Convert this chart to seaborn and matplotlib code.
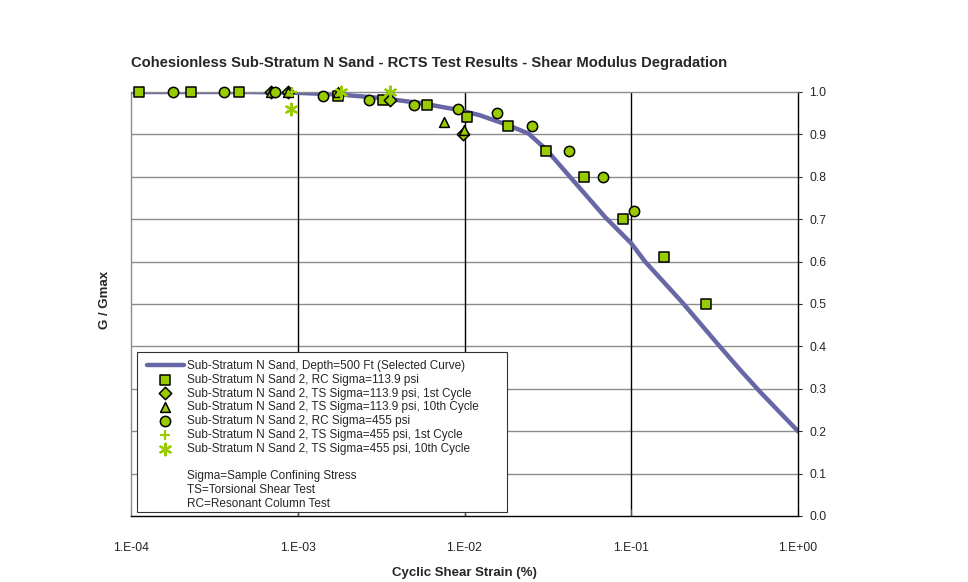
import matplotlib
matplotlib.use("Agg")
import matplotlib.pyplot as plt
import seaborn as sns
import pandas as pd
from matplotlib.lines import Line2D
from matplotlib.patches import Rectangle
from matplotlib.ticker import FixedLocator, FixedFormatter, NullLocator

# ---- data ----
curve_strain = [1e-4, 5.17e-4, 1e-3, 1.79e-3, 3.11e-3, 5.41e-3, 9.14e-3, 1.24e-2,
                1.82e-2, 2.42e-2, 3.08e-2, 4.29e-2, 6.97e-2, 0.1, 0.121, 0.201,
                0.258, 0.331, 0.449, 0.592, 0.78, 1.0]
curve_ratio = [1.0, 1.0, 0.998, 0.994, 0.986, 0.974, 0.958, 0.945,
               0.922, 0.902, 0.865, 0.80, 0.705, 0.643, 0.60, 0.505,
               0.455, 0.405, 0.345, 0.293, 0.244, 0.20]

rc114_strain = [1.12e-4, 2.29e-4, 4.44e-4, 1.74e-3, 3.25e-3, 5.96e-3, 1.03e-2,
                1.82e-2, 3.08e-2, 5.21e-2, 8.93e-2, 0.157, 0.281]
rc114_ratio = [1.0, 1.0, 1.0, 0.99, 0.98, 0.97, 0.94, 0.92, 0.86, 0.80, 0.70, 0.61, 0.50]

ts114_1_strain = [6.9e-4, 8.7e-4, 3.57e-3, 9.75e-3]
ts114_1_ratio = [1.0, 1.0, 0.98, 0.90]

ts114_10_strain = [6.9e-4, 8.7e-4, 1.75e-3, 7.54e-3, 9.9e-3]
ts114_10_ratio = [1.0, 1.0, 1.0, 0.93, 0.91]

rc455_strain = [1.79e-4, 3.61e-4, 7.3e-4, 1.41e-3, 2.67e-3, 4.98e-3, 9.14e-3,
                1.57e-2, 2.54e-2, 4.22e-2, 6.77e-2, 0.104]
rc455_ratio = [1.0, 1.0, 1.0, 0.99, 0.98, 0.97, 0.96, 0.95, 0.92, 0.86, 0.80, 0.72]

ts455_1_strain = [9.3e-4]
ts455_1_ratio = [1.0]

ts455_10_strain = [9.1e-4, 1.81e-3, 3.57e-3]
ts455_10_ratio = [0.96, 1.0, 1.0]

x_ticks = [1e-4, 1e-3, 1e-2, 1e-1, 1.0]
x_tick_labels = ["1.E-04", "1.E-03", "1.E-02", "1.E-01", "1.E+00"]
y_ticks = [0.0, 0.1, 0.2, 0.3, 0.4, 0.5, 0.6, 0.7, 0.8, 0.9, 1.0]

labels = [
    "Sub-Stratum N Sand, Depth=500 Ft (Selected Curve)",
    "Sub-Stratum N Sand 2, RC Sigma=113.9 psi",
    "Sub-Stratum N Sand 2, TS Sigma=113.9 psi, 1st Cycle",
    "Sub-Stratum N Sand 2, TS Sigma=113.9 psi, 10th Cycle",
    "Sub-Stratum N Sand 2, RC Sigma=455 psi",
    "Sub-Stratum N Sand 2, TS Sigma=455 psi, 1st Cycle",
    "Sub-Stratum N Sand 2, TS Sigma=455 psi, 10th Cycle",
]
notes = ["Sigma=Sample Confining Stress", "TS=Torsional Shear Test", "RC=Resonant Column Test"]

# ---- style ----
sns.set_style("white")
plt.rcParams['font.family'] = ['Liberation Sans', 'DejaVu Sans']

GREEN = "#99CC00"
LINE = "#6767A6"

fig = plt.figure(figsize=(9.68, 5.82), dpi=100)
ax = fig.add_axes([131 / 968, 1 - 516 / 582, (798 - 131) / 968, (516 - 92) / 582])

# grid
for yv in y_ticks[1:-1]:
    ax.axhline(yv, color="#8c8c8c", lw=1.0, zorder=0)
for xv in x_ticks[1:-1]:
    ax.axvline(xv, color="black", lw=1.0, zorder=0)

sns.lineplot(x=curve_strain, y=curve_ratio, ax=ax, color=LINE, lw=3.2,
             label=labels[0], zorder=2, sort=False, solid_joinstyle="round",
             solid_capstyle="round")

common = dict(ax=ax, clip_on=False)
sns.scatterplot(x=rc114_strain, y=rc114_ratio, marker="s", s=55,
                color=GREEN, edgecolor="black", linewidth=1.1, label=labels[1], zorder=4, **common)
sns.scatterplot(x=ts114_1_strain, y=ts114_1_ratio, marker="D", s=40,
                color=GREEN, edgecolor="black", linewidth=1.1, label=labels[2], zorder=4, **common)
sns.scatterplot(x=ts114_10_strain, y=ts114_10_ratio, marker="^", s=50,
                color=GREEN, edgecolor="black", linewidth=1.1, label=labels[3], zorder=4, **common)
sns.scatterplot(x=rc455_strain, y=rc455_ratio, marker="o", s=55,
                color=GREEN, edgecolor="black", linewidth=1.1, label=labels[4], zorder=4, **common)
sns.scatterplot(x=ts455_1_strain, y=ts455_1_ratio, marker="+", s=60,
                color=GREEN, linewidth=1.6, label=labels[5], zorder=5, **common)
sns.scatterplot(x=ts455_10_strain, y=ts455_10_ratio, marker=(6, 2, 0), s=70,
                color=GREEN, edgecolor=GREEN, linewidth=1.6, label=labels[6], zorder=5, **common)

ax.set_xscale("log")
ax.set_xlim(1e-4, 1.0)
ax.set_ylim(0, 1.0)

ax.xaxis.set_major_locator(FixedLocator(x_ticks))
ax.xaxis.set_major_formatter(FixedFormatter(x_tick_labels))
ax.xaxis.set_minor_locator(NullLocator())
ax.tick_params(axis="x", direction="in", length=5, width=0.8, color="#555555",
               labelsize=8.7, pad=19, bottom=True)

ax.yaxis.tick_right()
ax.yaxis.set_major_locator(FixedLocator(y_ticks))
ax.set_yticklabels([f"{v:.1f}" for v in y_ticks])
ax.tick_params(axis="y", direction="out", length=3, width=0.8, labelsize=8.7, pad=5,
               right=True, left=False)

ax.spines["left"].set_color("#8c8c8c")
ax.spines["top"].set_color("#8c8c8c")
ax.spines["right"].set_color("black")
ax.spines["bottom"].set_color("black")
for s in ax.spines.values():
    s.set_linewidth(1.0)
ax.set_xlabel("")
ax.set_ylabel("")

# legend box (drawn as a frame) + legend entries
box = Rectangle((6 / 667, 4 / 424), 370 / 667, 160 / 424, transform=ax.transAxes,
                facecolor="white", edgecolor="#333333", linewidth=0.8, zorder=9)
ax.add_patch(box)

handles, lbls = ax.get_legend_handles_labels()
blank = Line2D([], [], linestyle="none", marker=None)
handles = handles + [blank] * 4
lbls = lbls + [""] + notes
leg = ax.legend(handles, lbls, loc="upper left", bbox_to_anchor=(16 / 667, 156 / 424),
                borderaxespad=0, frameon=False, fontsize=8.5,
                labelspacing=0.15, handlelength=3.1, handletextpad=0.25,
                borderpad=0.0)
leg.set_zorder(10)

fig.text(131 / 968, 1 - 63 / 582,
         "Cohesionless Sub-Stratum N Sand - RCTS Test Results - Shear Modulus Degradation",
         fontsize=10.6, fontweight="bold", ha="left", va="center")
fig.text(105 / 968, 1 - 300 / 582, "G / Gmax", fontsize=9.5, fontweight="bold",
         rotation=90, ha="center", va="center")
fig.text(464 / 968, 1 - 573 / 582, "Cyclic Shear Strain (%)", fontsize=9.5,
         fontweight="bold", ha="center", va="center")

fig.savefig("out.png", dpi=100, facecolor="white")
